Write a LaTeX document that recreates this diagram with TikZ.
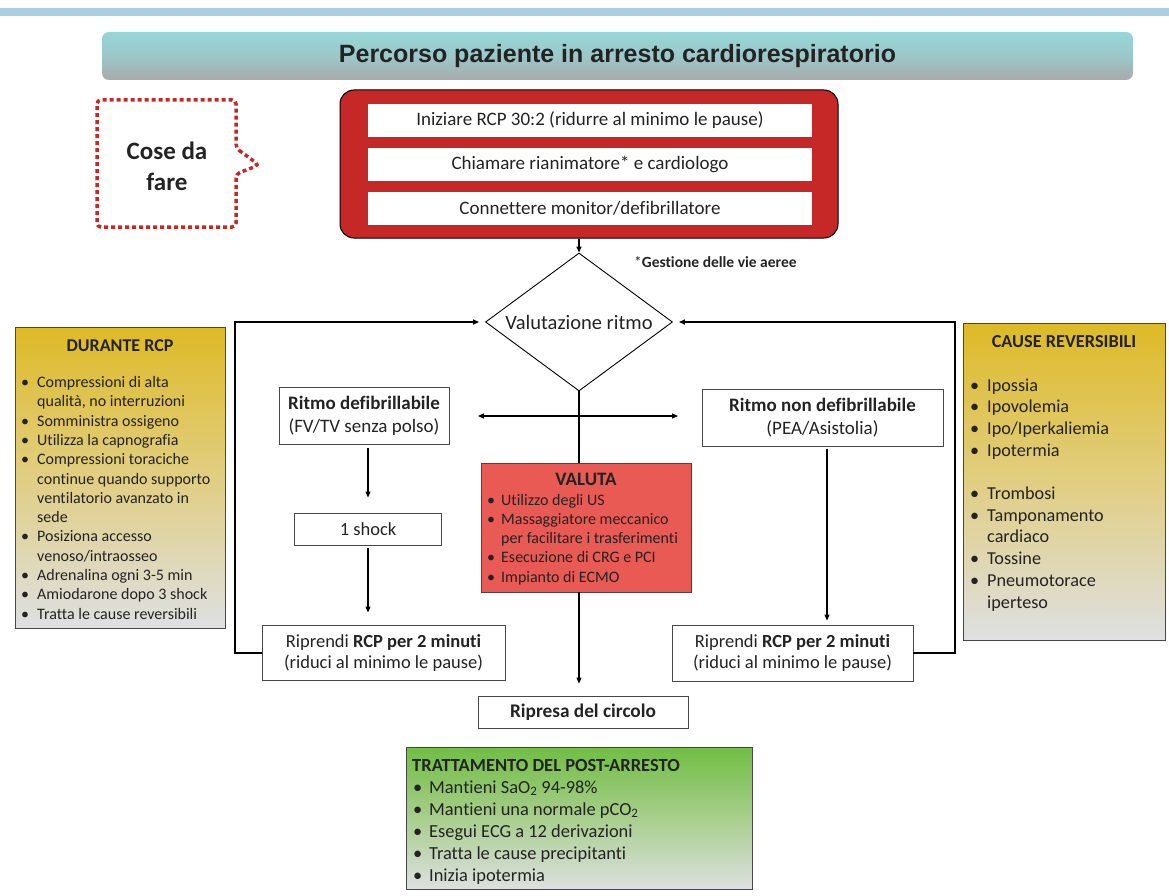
\documentclass[tikz,border=0pt]{standalone}
\usepackage{fontspec}
\setmainfont[Ligatures=NoCommon]{Carlito}
\newfontfamily\headfont{Liberation Sans}
\usetikzlibrary{shapes.geometric,arrows.meta,calc}

\definecolor{barblue}{RGB}{170,206,226}
\definecolor{headteal}{RGB}{150,214,216}
\definecolor{headmid}{RGB}{156,200,202}
\definecolor{headgray}{RGB}{168,170,170}
\definecolor{alarmred}{RGB}{198,40,40}
\definecolor{valred}{RGB}{234,90,84}
\definecolor{valedge}{RGB}{95,60,60}
\definecolor{gold}{RGB}{222,186,38}
\definecolor{goldmid}{RGB}{225,206,130}
\definecolor{paleg}{RGB}{222,224,226}
\definecolor{leaf}{RGB}{112,190,68}
\definecolor{leafmid}{RGB}{168,206,140}
\definecolor{ink}{RGB}{35,35,35}
\definecolor{edge}{RGB}{70,70,70}

\newcommand\fs[2]{\fontsize{#1}{#2}\selectfont}
% bullet item with hanging indent #1
\newcommand\bul[2]{\hangindent=#1\hangafter=1\noindent\makebox[#1][l]{\textbullet}#2\par}

\begin{document}
\begin{tikzpicture}[x=1pt,y=-1pt,
  every node/.style={text=ink},
  box/.style={draw=edge, line width=0.9pt, fill=white, inner sep=0pt, align=center},
  panel/.style={draw=edge, line width=0.9pt, inner sep=0pt},
  tip/.style={-{Triangle[length=6pt,width=5pt]}},
  link/.style={line width=1.1pt, draw=black},
  back/.style={line width=2pt, draw=black},
  listtext/.style={anchor=base west, inner sep=0pt, align=flush left},
  ]
\useasboundingbox (0,0) rectangle (1169,896);

% top rule
\fill[barblue] (0,8) rectangle (1169,16);

% heading
\node[inner sep=0pt, rounded corners=7pt, minimum width=1031pt, minimum height=48pt,
      top color=headteal, bottom color=headgray, middle color=headmid] (head) at (617.5,56)
      {\headfont\bfseries\fs{25}{28}Percorso paziente in arresto cardiorespiratorio};

% first actions
\node[draw=black, line width=1pt, fill=alarmred, rounded corners=14pt, minimum width=498pt,
      minimum height=148pt, inner sep=0pt] (red) at (589,164) {};
\node[inner sep=0pt, fill=white, minimum width=444pt, minimum height=33pt, font=\fs{19}{22}] (w1) at (590,120.5)
      {Iniziare RCP 30:2 (ridurre al minimo le pause)};
\node[inner sep=0pt, fill=white, minimum width=444pt, minimum height=33pt, font=\fs{19}{22}] (w2) at (590,164.5)
      {Chiamare rianimatore* e cardiologo};
\node[inner sep=0pt, fill=white, minimum width=444pt, minimum height=33pt, font=\fs{19}{22}] (w3) at (590,208.5)
      {Connettere monitor/defibrillatore};

% callout
\draw[alarmred, line width=3.5pt, dash pattern=on 4pt off 3pt, rounded corners=4pt]
  (236,148) -- (259,165) -- (236,174) -- (236,227) -- (97,227) -- (97,100) -- (236,100) -- cycle;
\node[align=center, font={\bfseries\fs{25}{31}}] (cose) at (167,166) {Cose da\\fare};

% rhythm check
\node[draw, diamond, aspect=1.355, minimum width=187pt, minimum height=138pt, inner sep=0pt,
      line width=0.9pt, font=\fs{20.5}{24}] (dia) at (579,322) {Valutazione ritmo};
\node[anchor=west, inner sep=0pt, font=\fs{15.5}{18}] (note) at (634,262) {*\textbf{Gestione delle vie aeree}};

% branches
\node[box, minimum width=170pt, minimum height=57pt, font=\fs{19}{23}] (defib) at (364,415.5)
      {\textbf{Ritmo defibrillabile}\\(FV/TV senza polso)};
\node[box, minimum width=147pt, minimum height=32pt, font=\fs{18.5}{21}] (shock) at (368,529) {1 shock};
\node[box, minimum width=243pt, minimum height=55pt, font=\fs{18.5}{21}] (ripl) at (383.5,652.5)
      {Riprendi \textbf{RCP per 2 minuti}\\(riduci al minimo le pause)};
\node[box, minimum width=241pt, minimum height=57pt, font=\fs{19}{23}] (nodefib) at (822.5,417.5)
      {\textbf{Ritmo non defibrillabile}\\(PEA/Asistolia)};
\node[box, minimum width=241pt, minimum height=56pt, font=\fs{18.5}{21}] (ripr) at (792.5,653)
      {Riprendi \textbf{RCP per 2 minuti}\\(riduci al minimo le pause)};
\node[box, minimum width=210pt, minimum height=32pt, font={\bfseries\fs{19.3}{22}}] (rosc) at (583,712)
      {Ripresa del circolo};

% evaluation panel
\node[panel, fill=valred, draw=valedge, minimum width=210pt, minimum height=129pt] (val) at (586,527.5) {};
\node[anchor=base, inner sep=0pt, font={\bfseries\fs{19}{22}}] (valhead) at (586,485) {VALUTA};
\node[listtext, text width=202pt, font=\fs{16}{19.3}] (vallist) at (487,505) {%
  \bul{14pt}{Utilizzo degli US}%
  \bul{14pt}{Massaggiatore meccanico\newline per facilitare i trasferimenti}%
  \bul{14pt}{Esecuzione di CRG e PCI}%
  \bul{14pt}{Impianto di ECMO}};

% during CPR panel
\node[panel, minimum width=210pt, minimum height=301pt, top color=gold, bottom color=paleg,
      middle color=goldmid] (dur) at (120,477.5) {};
\node[anchor=base, inner sep=0pt, font={\bfseries\fs{18}{21}}] (durhead) at (120,351) {DURANTE RCP};
\node[listtext, text width=202pt, font=\fs{16}{19.3}] (durlist) at (21,387.5) {%
  \bul{16pt}{Compressioni di alta\newline qualità, no interruzioni}%
  \bul{16pt}{Somministra ossigeno}%
  \bul{16pt}{Utilizza la capnografia}%
  \bul{16pt}{Compressioni toraciche\newline continue quando supporto\newline ventilatorio avanzato in\newline sede}%
  \bul{16pt}{Posiziona accesso\newline venoso/intraosseo}%
  \bul{16pt}{Adrenalina ogni 3-5 min}%
  \bul{16pt}{Amiodarone dopo 3 shock}%
  \bul{16pt}{Tratta le cause reversibili}};

% reversible causes panel
\node[panel, minimum width=202pt, minimum height=317pt, top color=gold, bottom color=paleg,
      middle color=goldmid] (cause) at (1064,481.5) {};
\node[anchor=base, inner sep=0pt, font={\bfseries\fs{18.3}{21}}] (causehead) at (1064,347) {CAUSE REVERSIBILI};
\node[listtext, text width=190pt, font=\fs{18.2}{21.7}] (causelist) at (970,391) {%
  \bul{17pt}{Ipossia}%
  \bul{17pt}{Ipovolemia}%
  \bul{17pt}{Ipo/Iperkaliemia}%
  \bul{17pt}{Ipotermia}\vspace{21.7pt}%
  \bul{17pt}{Trombosi}%
  \bul{17pt}{Tamponamento\newline cardiaco}%
  \bul{17pt}{Tossine}%
  \bul{17pt}{Pneumotorace\newline iperteso}};

% post-arrest panel
\node[panel, minimum width=346pt, minimum height=142pt, top color=leaf, bottom color=paleg,
      middle color=leafmid] (post) at (579,818) {};
\node[anchor=base west, inner sep=0pt, font={\bfseries\fs{18.5}{21}}] (posthead) at (412,771)
      {TRATTAMENTO DEL POST-ARRESTO};
\node[listtext, text width=330pt, font=\fs{18.4}{22}] (postlist) at (413,793) {%
  \bul{16pt}{Mantieni SaO\textsubscript{2} 94-98\%}%
  \bul{16pt}{Mantieni una normale pCO\textsubscript{2}}%
  \bul{16pt}{Esegui ECG a 12 derivazioni}%
  \bul{16pt}{Tratta le cause precipitanti}%
  \bul{16pt}{Inizia ipotermia}};

% connectors
\draw[link, tip, line width=1.8pt] (red.south -| dia.north) -- (dia.north);
\draw[link] (dia.south) -- (dia.south |- val.north);
\draw[link, tip, shorten >=12pt] (dia.south |- val.south) -- (dia.south |- rosc.north);
\coordinate (hl) at (478,416);
\coordinate (hr) at (678,416);
\draw[link, {Triangle[length=6pt,width=5pt]}-{Triangle[length=6pt,width=5pt]}] (hl) -- (hr);
\draw[link, tip, shorten <=4pt, shorten >=15pt] (shock.north |- defib.south) -- (shock.north);
\draw[link, tip, shorten <=3pt, shorten >=12pt] (shock.south) -- (shock.south |- ripl.north);
\draw[link, tip, shorten <=3pt, shorten >=4pt] ([xshift=4.5pt]nodefib.south) -- ([xshift=4.5pt]nodefib.south |- ripr.north);

% return loops
\coordinate (lc) at (235,0);
\coordinate (rc) at (955,0);
\draw[back, tip, shorten >=6pt] (ripl.west) -| (lc |- dia.west) -- (dia.west);
\draw[back, tip, shorten >=6pt] (ripr.east) -| (rc |- dia.east) -- (dia.east);
\end{tikzpicture}
\end{document}
